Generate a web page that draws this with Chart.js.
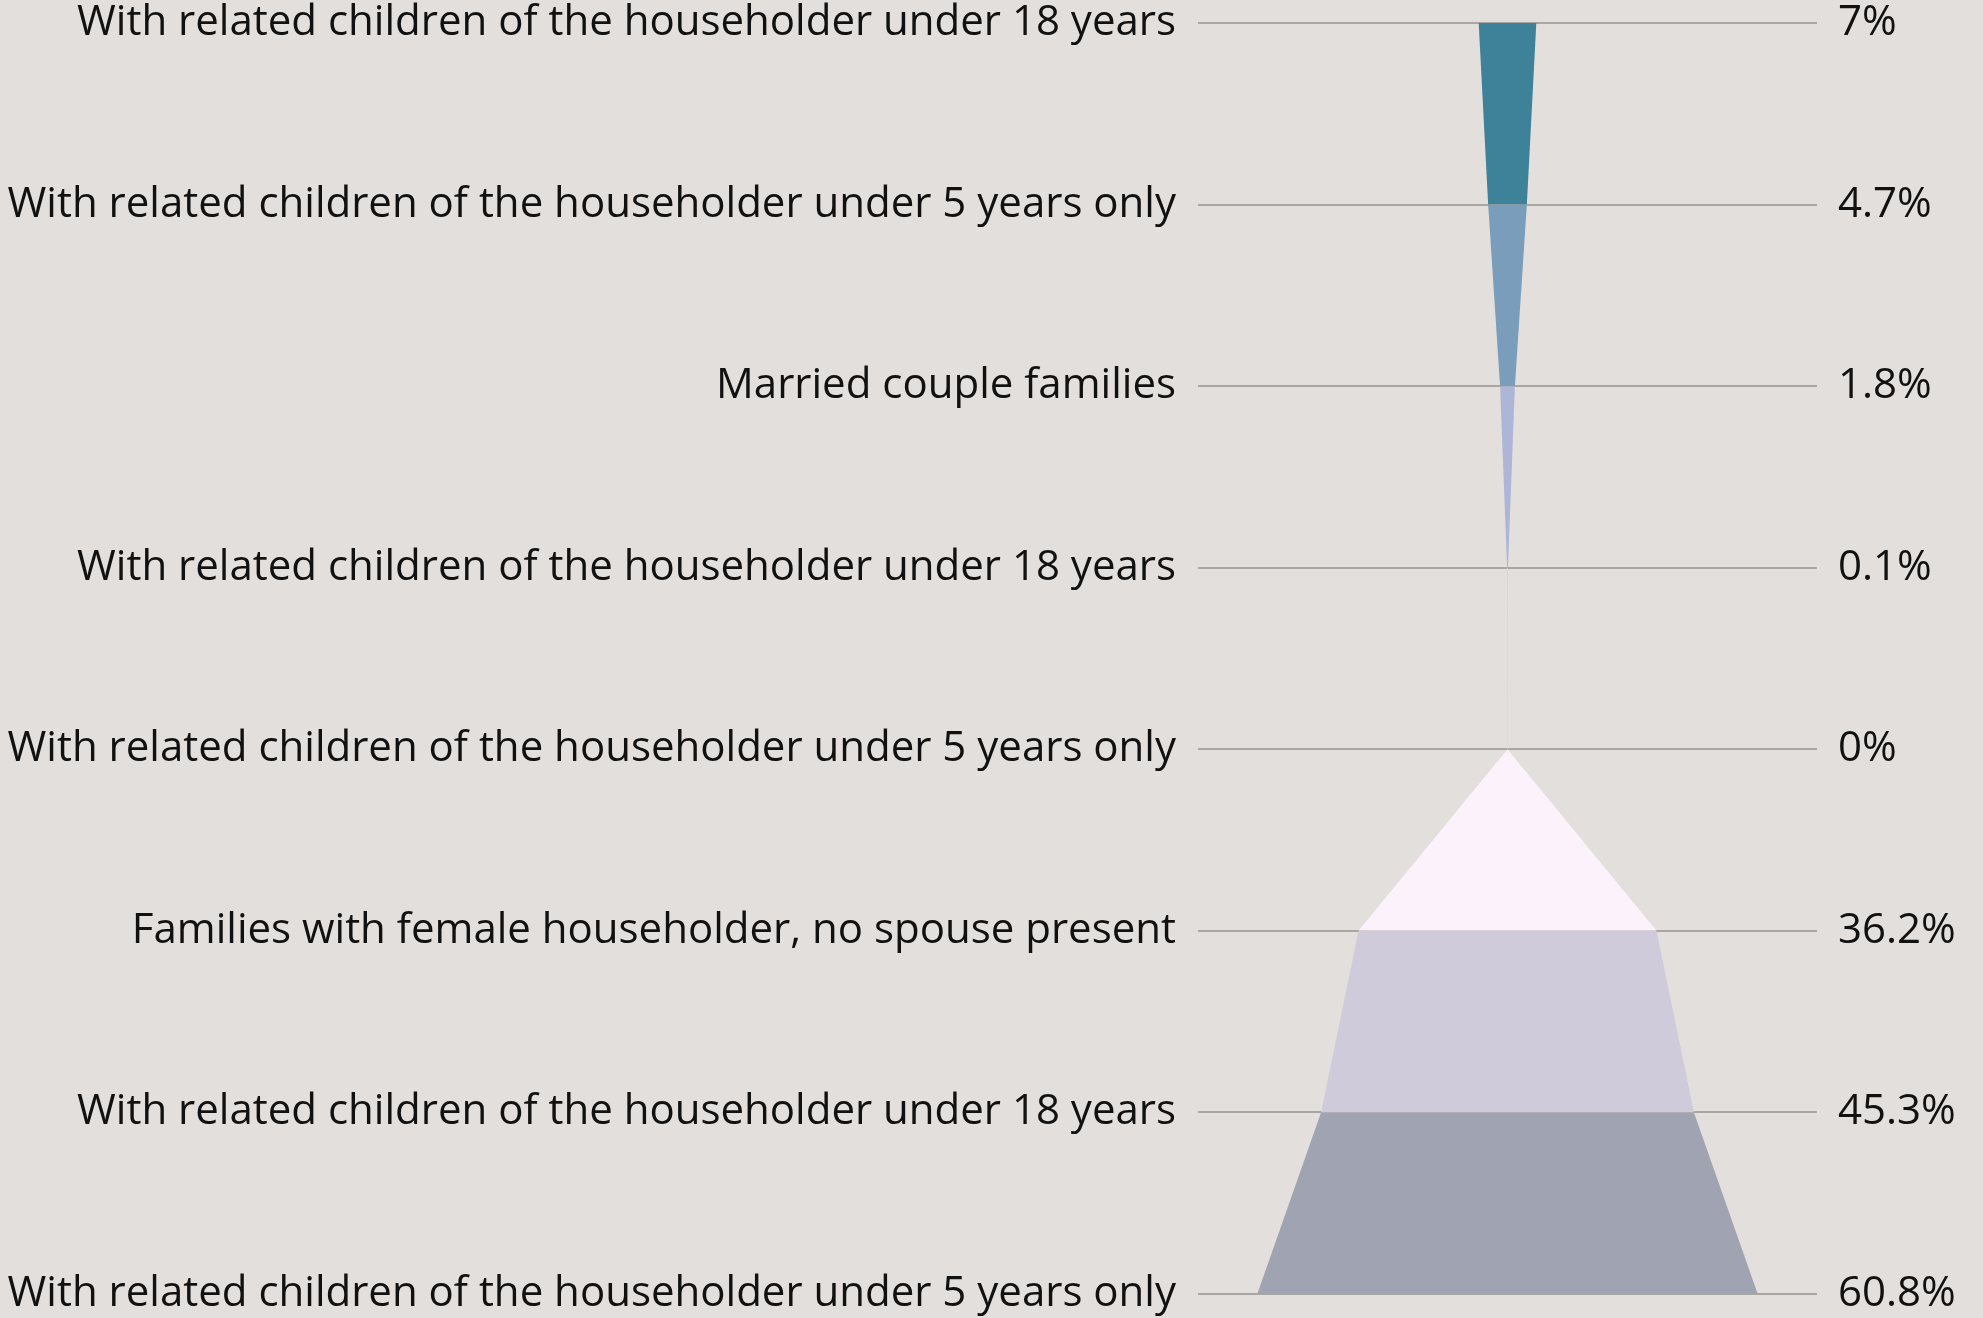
<!DOCTYPE html>
<html><head><meta charset="utf-8">
<script src="https://cdn.jsdelivr.net/npm/chart.js@4"></script>
<style>html,body{margin:0;padding:0;background:#e3dfdc;overflow:hidden;}</style>
</head><body><canvas id="c" width="1983" height="1318"></canvas>
<script>
const categories = [
  'With related children of the householder under 18 years',
  'With related children of the householder under 5 years only',
  'Married couple families',
  'With related children of the householder under 18 years',
  'With related children of the householder under 5 years only',
  'Families with female householder, no spouse present',
  'With related children of the householder under 18 years',
  'With related children of the householder under 5 years only'
];
const values = [7, 4.7, 1.8, 0.1, 0, 36.2, 45.3, 60.8];
const valueLabels = ['7%', '4.7%', '1.8%', '0.1%', '0%', '36.2%', '45.3%', '60.8%'];
const segmentColors = ['#3d8299', '#7a9dbc', '#aeb6d8', '#d9d3df', '#fcf2fb', '#cfcbda', '#a0a3b1'];

const datasets = [];
for (let i = 0; i < values.length - 1; i++) {
  datasets.push({
    data: [{x: -values[i] / 2, y: i}, {x: -values[i + 1] / 2, y: i + 1}],
    borderColor: 'rgba(0,0,0,0)', borderWidth: 0, pointRadius: 0, fill: false, tension: 0
  });
  datasets.push({
    data: [{x: values[i] / 2, y: i}, {x: values[i + 1] / 2, y: i + 1}],
    borderColor: 'rgba(0,0,0,0)', borderWidth: 0, pointRadius: 0, tension: 0,
    fill: '-1', backgroundColor: segmentColors[i]
  });
}
datasets.push({data: [], yAxisID: 'y2', pointRadius: 0, borderWidth: 0});

const tickFont = {family: "'Open Sans', sans-serif", size: 42, lineHeight: 1};

new Chart(document.getElementById('c'), {
  type: 'line',
  data: {datasets},
  options: {
    responsive: false,
    animation: false,
    indexAxis: 'y',
    layout: {padding: {top: 23, bottom: 24, left: 0, right: 0}},
    plugins: {legend: {display: false}, tooltip: {enabled: false}},
    scales: {
      x: {type: 'linear', min: -37.6, max: 37.6, display: false},
      y: {
        type: 'linear', reverse: true, min: 0, max: 7,
        afterFit: s => { s.width = 1198; s.paddingTop = 0; s.paddingBottom = 0; },
        grid: {color: '#aaa6a3', lineWidth: 2, drawTicks: false},
        border: {display: false},
        ticks: {stepSize: 1, autoSkip: false, padding: 22, color: '#111111', font: tickFont,
          callback: v => categories[v]}
      },
      y2: {
        type: 'linear', position: 'right', reverse: true, min: 0, max: 7,
        afterFit: s => { s.width = 166; s.paddingTop = 0; s.paddingBottom = 0; },
        grid: {display: false, drawTicks: false},
        border: {display: false},
        ticks: {stepSize: 1, autoSkip: false, padding: 21, color: '#111111', font: tickFont,
          callback: v => valueLabels[v]}
      }
    }
  }
});
</script></body></html>
